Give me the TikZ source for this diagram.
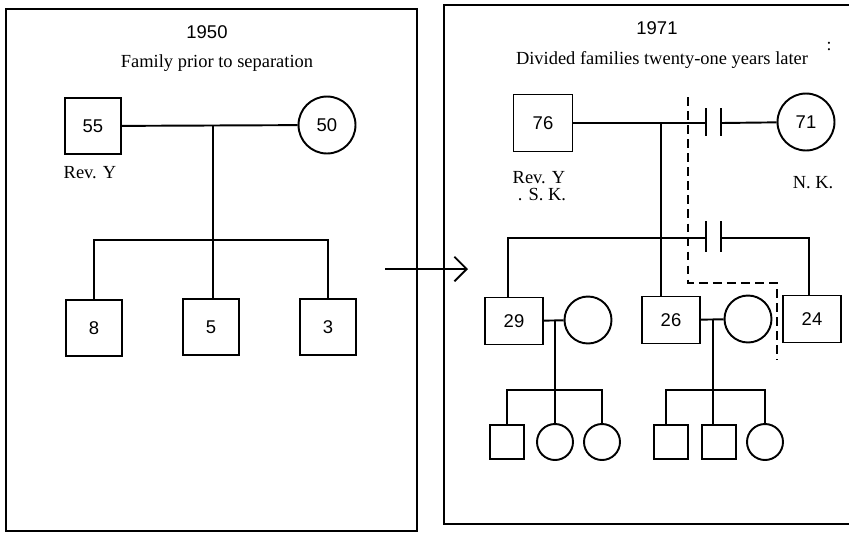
\documentclass[tikz,border=0pt]{standalone}
\usepackage{fontspec}
\setmainfont{Liberation Serif}
\newfontfamily\numfont{Liberation Sans}
\usetikzlibrary{arrows.meta}

\begin{document}
\begin{tikzpicture}[x=0.02cm,y=-0.02cm,line width=1.1pt,>={Straight Barb[length=7pt,width=14pt]},
  male/.style={draw,rectangle,inner sep=0pt,minimum width=1.12cm,minimum height=1.12cm,font=\numfont\fontsize{10.5}{12}\selectfont},
  female/.style={draw,circle,inner sep=0pt,minimum size=1.14cm,font=\numfont\fontsize{10.5}{12}\selectfont},
  son/.style={male,minimum width=1.16cm,minimum height=0.94cm},
  wife/.style={female,minimum size=0.94cm},
  kidm/.style={male,minimum width=0.68cm,minimum height=0.68cm},
  kidf/.style={female,minimum size=0.72cm},
  note/.style={font=\fontsize{10.5}{12}\selectfont},
  year/.style={font=\numfont\fontsize{10.5}{12}\selectfont},
  sep/.style={dash pattern=on 5pt off 3pt}]
 \useasboundingbox (0,0) rectangle (849,532);
 % frames
 \draw (6,9) rectangle (417,531);
 \draw (849,5) -- (444,5) -- (444,524) -- (849,524);
 \coordinate (from) at (385,269); \coordinate (to) at (468,269);
 \draw[->] (from) -- (to);
 % 1950
 \node[year] (y1) at (207,32) {1950};
 \node[note] (t1) at (217,63) {Family prior to separation};
 \node[male] (m55) at (93,126) {55};
 \node[female] (f50) at (327,125) {50};
 \node[note] (r1) at (90,173) {Rev. Y};
 \node[male] (k8) at (94,328) {8};
 \node[male] (k5) at (211,327) {5};
 \node[male] (k3) at (328,327) {3};
 \draw (m55) -- (f50);
 \coordinate (c1) at (213,126); \coordinate (b1) at (213,240);
 \draw (c1) -- (b1) -- (b1 |- k5.north);
 \draw (k8) |- (b1) -| (k3);
 % 1971
 \node[year] (y2) at (657,28) {1971};
 \node[note] (t2) at (662,60) {Divided families twenty-one years later};
 \node[font=\fontsize{10}{11}\selectfont] (cl) at (829,46) {:};
 \node[male,minimum height=1.14cm,minimum width=1.18cm] (m76) at (543,123) {76};
 \node[female] (f71) at (806,122) {71};
 \node[note] (r2) at (539,178) {Rev. Y};
 \node[note] (sk) at (542,195) {. S. K.};
 \node[note] (nk) at (813,183) {N. K.};
 \coordinate (d1a) at (706,123); \coordinate (d1b) at (721,123);
 \draw (m76) -- (d1a); \draw (d1b) -- (f71);
 \draw (d1a) ++(0,-15) -- ++(0,28); \draw (d1b) ++(0,-15) -- ++(0,28);
 \node[son] (s29) at (514,321) {29};
 \node[wife] (w29) at (588,320) {};
 \node[son] (s26) at (671,320) {26};
 \node[wife] (w26) at (748,319) {};
 \node[son] (s24) at (812,319) {24};
 \coordinate (c2) at (661,123);
 \draw (c2) -- (c2 |- s26.north);
 \coordinate (d2a) at (706,238); \coordinate (d2b) at (721,238);
 \draw (s29.north -| 508,0) |- (d2a); \draw (d2b) -| (s24.north -| 809,0);
 \draw (d2a) ++(0,-17) -- ++(0,31); \draw (d2b) ++(0,-17) -- ++(0,31);
 \draw[sep] (688,97) -- (688,283) -- (777,283) -- (777,360);
 % grandchildren
 \draw (s29) -- (w29); \draw (s26) -- (w26);
 \node[kidm] (g1) at (507,442) {};
 \node[kidf] (g2) at (555,442) {};
 \node[kidf] (g3) at (602,442) {};
 \node[kidm] (g4) at (671,442) {};
 \node[kidm] (g5) at (719,442) {};
 \node[kidf] (g6) at (765,442) {};
 \coordinate (c3) at (555,321); \coordinate (b3) at (555,390);
 \draw (c3) -- (b3) -- (g2);
 \draw (g1) |- (b3) -| (g3);
 \coordinate (c4) at (713,320); \coordinate (b4) at (713,390);
 \draw (c4) -- (b4) -- (b4 |- g5.north);
 \draw (g4.north -| 666,0) |- (b4) -| (g6);
\end{tikzpicture}
\end{document}
